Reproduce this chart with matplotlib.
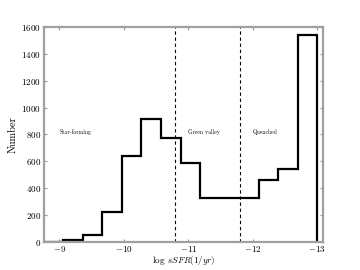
import numpy as np
import matplotlib
matplotlib.use("Agg")
import matplotlib.pyplot as plt

# histogram of log sSFR, bins listed from -8.76 towards -13.0
counts = [5, 15, 57, 227, 642, 918, 775, 590, 328, 328, 328, 464, 543, 1540]
edge_lo, edge_hi = -8.76, -13.0
divides = [-10.8, -11.8]
region_labels = ["Star-forming", "Green valley", "Quenched"]
region_x = [-9.0, -11.0, -12.0]
region_y = 800
xticks = [-9, -10, -11, -12, -13]
yticks = list(range(0, 1601, 200))

plt.rcParams["font.family"] = "serif"
plt.rcParams["font.serif"] = ["cmr10", "DejaVu Serif"]
plt.rcParams["mathtext.fontset"] = "cm"
plt.rcParams["axes.formatter.use_mathtext"] = True

fig = plt.figure(figsize=(3.6, 2.7), dpi=100)
ax = fig.add_axes([0.122, 0.103, 0.775, 0.798])

edges = np.linspace(edge_lo, edge_hi, len(counts) + 1)
centers = 0.5 * (edges[:-1] + edges[1:])
ax.hist(centers, bins=edges[::-1], weights=counts, histtype="step",
        color="black", lw=1.6)

for x in divides:
    ax.axvline(x, color="black", ls="--", lw=0.8, dashes=(3, 2.5))

for x, lab in zip(region_x, region_labels):
    ax.text(x, region_y, lab, fontsize=4.2, ha="left", va="baseline")

ax.set_xlim(-8.76, -13.09)
ax.set_ylim(0, 1600)
ax.set_xticks(xticks)
ax.set_yticks(yticks)
ax.tick_params(labelsize=6.5, direction="in", length=2.5, color="#999999",
               top=True, right=True, pad=2)
ax.tick_params(axis="x", pad=1)
for s in ax.spines.values():
    s.set_color("#a0a0a0")
    s.set_linewidth(1.6)
ax.set_xlabel(r"$\log\ sSFR(1/yr)$", fontsize=6.5, labelpad=0.5)
ax.set_ylabel("Number", fontsize=7.5, labelpad=3)

fig.savefig("out.png", dpi=100)
